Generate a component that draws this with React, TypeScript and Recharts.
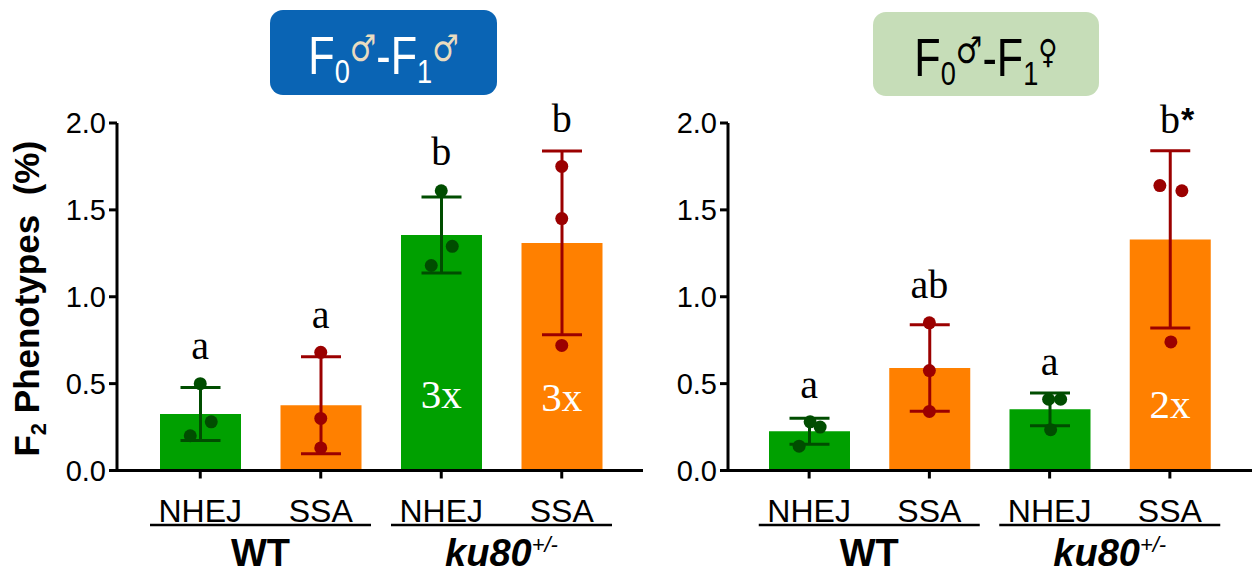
import React from "react";
import { ComposedChart, Bar, Cell, ErrorBar, Line, XAxis, YAxis, Label } from "recharts";

const barKeys = ["WT-NHEJ", "WT-SSA", "KU-NHEJ", "KU-SSA"];
const repairLabels = ["NHEJ", "SSA", "NHEJ", "SSA"];
const genotypes = ["WT", "WT", "ku80", "ku80"];
const pathways = ["nhej", "ssa", "nhej", "ssa"];
const yTicks = [0, 0.5, 1, 1.5, 2];

// F0♂ - F1♂
const maleMeans = [0.325, 0.375, 1.355, 1.31];
const maleSd = [0.152, 0.279, 0.219, 0.529];
const maleRep1 = [0.5, 0.68, 1.61, 1.75];
const maleRep2 = [0.28, 0.3, 1.29, 1.45];
const maleRep3 = [0.2, 0.13, 1.18, 0.72];
const maleLetters = ["a", "a", "b", "b"];
const maleLetterY = [0.64, 0.82, 1.76, 1.95];
const maleFold = ["", "", "3x", "3x"];
const maleFoldY = [null, null, 0.36, 0.345];

// F0♂ - F1♀
const femaleMeans = [0.226, 0.59, 0.352, 1.33];
const femaleSd = [0.075, 0.249, 0.094, 0.51];
const femaleRep1 = [0.28, 0.85, 0.41, 1.64];
const femaleRep2 = [0.25, 0.575, 0.41, 1.61];
const femaleRep3 = [0.14, 0.34, 0.235, 0.74];
const femaleLetters = ["a", "ab", "a", "b*"];
const femaleLetterY = [0.42, 0.99, 0.55, 1.94];
const femaleFold = ["", "", "", "2x"];
const femaleFoldY = [null, null, null, 0.3];

// horizontal scatter of the replicate dots (px)
const maleJitter = [[0, 11, -10], [0, 0, 0], [0, 11, -10], [0, 0, 0]];
const femaleJitter = [[1, 11, -10], [0, 0, 0], [-1, 11, 1], [-10, 12, 1]];

const SANS = "'Liberation Sans', Arial, sans-serif";
const SERIF = "'Liberation Serif', 'Times New Roman', serif";
const SYM = "'DejaVu Sans', sans-serif";
const GREEN = "#00a000";
const ORANGE = "#ff8000";
const DARK_GREEN = "#004d00";
const DARK_RED = "#9b0000";

function buildRows(
  means: number[], sd: number[], r1: number[], r2: number[], r3: number[],
  letters: string[], letterY: number[], fold: string[], foldY: (number | null)[]
) {
  return barKeys.map((key, i) => ({
    key,
    group: genotypes[i],
    path: pathways[i],
    mean: means[i],
    sdG: pathways[i] === "nhej" ? sd[i] : undefined,
    sdO: pathways[i] === "ssa" ? sd[i] : undefined,
    r1: r1[i],
    r2: r2[i],
    r3: r3[i],
    letter: letters[i],
    letterY: letterY[i],
    fold: fold[i],
    foldY: foldY[i],
  }));
}

const maleRows = buildRows(maleMeans, maleSd, maleRep1, maleRep2, maleRep3, maleLetters, maleLetterY, maleFold, maleFoldY);
const femaleRows = buildRows(femaleMeans, femaleSd, femaleRep1, femaleRep2, femaleRep3, femaleLetters, femaleLetterY, femaleFold, femaleFoldY);

const renderPathTick = (props: any) => {
  const { x, y, index } = props;
  return (
    <text x={x} y={y + 43.5} textAnchor="middle" fontSize={32} fontFamily={SANS} fill="#000">
      {repairLabels[index]}
    </text>
  );
};

const renderGroupTick = (props: any) => {
  const { x, y, payload } = props;
  const isKu = payload.value === "ku80";
  return (
    <g>
      <line x1={x - 110.5} x2={x + 110.5} y1={y + 4.5} y2={y + 4.5} stroke="#000" strokeWidth={2.5} />
      <text x={x} y={y + 45} textAnchor="middle" fontSize={38} fontWeight="bold" fontFamily={SANS} fill="#000">
        {isKu ? (
          <>
            <tspan fontStyle="italic">ku80</tspan>
            <tspan fontStyle="italic" fontWeight="normal" fontSize={22} dy={-14}>+/-</tspan>
          </>
        ) : (
          "WT"
        )}
      </text>
    </g>
  );
};

const renderYLabel = (props: any) => {
  const vb = props.viewBox || { x: 0, y: 123, width: 117, height: 347.5 };
  const tx = vb.x + 39;
  const ty = vb.y + vb.height / 2 + 2;
  return (
    <text
      x={tx}
      y={ty}
      transform={`rotate(-90, ${tx}, ${ty})`}
      textAnchor="middle"
      fontSize={35}
      fontWeight="bold"
      fontFamily={SANS}
      fill="#000"
      style={{ whiteSpace: "pre" }}
    >
      F<tspan fontSize={22} dy={7}>2</tspan>
      <tspan dy={-7}>{" Phenotypes  (%)"}</tspan>
    </text>
  );
};

const repDot = (rep: number, jitter: number[][]) => (p: any) => {
  const { cx, cy, index, payload } = p;
  const k = `rep${rep}-${index}`;
  if (cx == null || cy == null) return <g key={k} />;
  const color = payload.path === "nhej" ? DARK_GREEN : DARK_RED;
  return <circle key={k} cx={cx + jitter[index][rep]} cy={cy} r={6.5} fill={color} />;
};

const letterDot = (p: any) => {
  const { cx, cy, index, payload } = p;
  const k = `let-${index}`;
  if (cx == null || cy == null) return <g key={k} />;
  const star = payload.letter.endsWith("*");
  const base = star ? payload.letter.slice(0, -1) : payload.letter;
  return (
    <g key={k}>
      <text x={cx} y={cy} textAnchor="middle" fontSize={40} fontFamily={SERIF} fill="#000">
        {base}
      </text>
      {star && (
        <text x={cx + 11} y={cy - 2} fontSize={34} fontWeight="bold" fontFamily={SANS} fill="#000">
          *
        </text>
      )}
    </g>
  );
};

const foldDot = (p: any) => {
  const { cx, cy, index, payload } = p;
  const k = `fold-${index}`;
  if (cx == null || cy == null || !payload.fold) return <g key={k} />;
  return (
    <text key={k} x={cx} y={cy} textAnchor="middle" fontSize={41} fontFamily={SERIF} fill="#fff">
      {payload.fold}
    </text>
  );
};

function Panel(props: {
  rows: any[];
  jitter: number[][];
  left: number;
  width: number;
  rightMargin: number;
  pad: { left: number; right: number };
  yLabel: boolean;
}) {
  const { rows, jitter, left, width, rightMargin, pad, yLabel } = props;
  return (
    <div style={{ position: "absolute", left, top: 0 }}>
      <ComposedChart
        width={width}
        height={574}
        data={rows}
        margin={{ top: 123, right: rightMargin, bottom: 0, left: 0 }}
        barSize={81}
      >
        <XAxis
          xAxisId={0}
          dataKey="key"
          height={50}
          padding={pad}
          tickSize={8}
          tickMargin={0}
          axisLine={{ stroke: "#000", strokeWidth: 3 }}
          tickLine={{ stroke: "#000", strokeWidth: 3 }}
          tick={renderPathTick}
          interval={0}
        />
        <XAxis
          xAxisId={1}
          dataKey="group"
          allowDuplicatedCategory={false}
          height={53.5}
          padding={pad}
          tickSize={0}
          tickMargin={0}
          axisLine={false}
          tickLine={false}
          tick={renderGroupTick}
          interval={0}
        />
        <YAxis
          width={117}
          domain={[0, 2]}
          ticks={yTicks}
          tickFormatter={(v: number) => v.toFixed(1)}
          tickSize={8}
          tickMargin={3}
          axisLine={{ stroke: "#000", strokeWidth: 3 }}
          tickLine={{ stroke: "#000", strokeWidth: 3 }}
          tick={{ fontSize: 29, fill: "#000", fontFamily: SANS }}
        >
          {yLabel && <Label content={renderYLabel} />}
        </YAxis>
        <Bar xAxisId={0} dataKey="mean" isAnimationActive={false}>
          {rows.map((r, i) => (
            <Cell key={`c-${i}`} fill={r.path === "nhej" ? GREEN : ORANGE} />
          ))}
          <ErrorBar dataKey="sdG" direction="y" width={20} strokeWidth={3} stroke={DARK_GREEN} isAnimationActive={false} />
          <ErrorBar dataKey="sdO" direction="y" width={20} strokeWidth={3} stroke={DARK_RED} isAnimationActive={false} />
        </Bar>
        <Line xAxisId={0} dataKey="r1" stroke="none" strokeWidth={0} dot={repDot(0, jitter)} activeDot={false} isAnimationActive={false} />
        <Line xAxisId={0} dataKey="r2" stroke="none" strokeWidth={0} dot={repDot(1, jitter)} activeDot={false} isAnimationActive={false} />
        <Line xAxisId={0} dataKey="r3" stroke="none" strokeWidth={0} dot={repDot(2, jitter)} activeDot={false} isAnimationActive={false} />
        <Line xAxisId={0} dataKey="letterY" stroke="none" strokeWidth={0} dot={letterDot} activeDot={false} isAnimationActive={false} />
        <Line xAxisId={0} dataKey="foldY" stroke="none" strokeWidth={0} dot={foldDot} activeDot={false} isAnimationActive={false} />
      </ComposedChart>
    </div>
  );
}

function TitleBox(props: { left: number; top: number; width: number; height: number; bg: string; color: string; symColor: string; second: string }) {
  const { left, top, width, height, bg, color, symColor, second } = props;
  const cx = width / 2;
  return (
    <div style={{ position: "absolute", left, top, width, height, background: bg, borderRadius: 13 }}>
      <svg width={width} height={height}>
        <g transform={`translate(${cx}, 0) scale(0.8, 1)`}>
          <text x={0} y={64} textAnchor="middle" fontFamily={SANS} fill={color}>
            <tspan fontSize={54}>F</tspan>
            <tspan fontSize={34} dy={9}>0</tspan>
            <tspan fontSize={37} dy={-22} fill={symColor} fontFamily={SYM}>♂</tspan>
            <tspan fontSize={54} dy={13}>-F</tspan>
            <tspan fontSize={34} dy={9}>1</tspan>
            <tspan fontSize={second === "♀" ? 33 : 37} dy={-22} fill={symColor} fontFamily={SYM}>
              {second}
            </tspan>
          </text>
        </g>
      </svg>
    </div>
  );
}

export default function App() {
  return (
    <div style={{ position: "absolute", left: 0, top: 0, width: 1259, height: 574, background: "#fff", overflow: "hidden" }}>
      <Panel rows={maleRows} jitter={maleJitter} left={0} width={660} rightMargin={17} pad={{ left: 23, right: 21 }} yLabel />
      <Panel rows={femaleRows} jitter={femaleJitter} left={611} width={648} rightMargin={7} pad={{ left: 21, right: 22 }} yLabel={false} />
      <TitleBox left={270} top={10} width={227} height={85} bg="#0a64b4" color="#fff" symColor="#e9dcc0" second="♂" />
      <TitleBox left={873} top={12} width={226} height={84} bg="#c6ddb8" color="#000" symColor="#000" second="♀" />
    </div>
  );
}
